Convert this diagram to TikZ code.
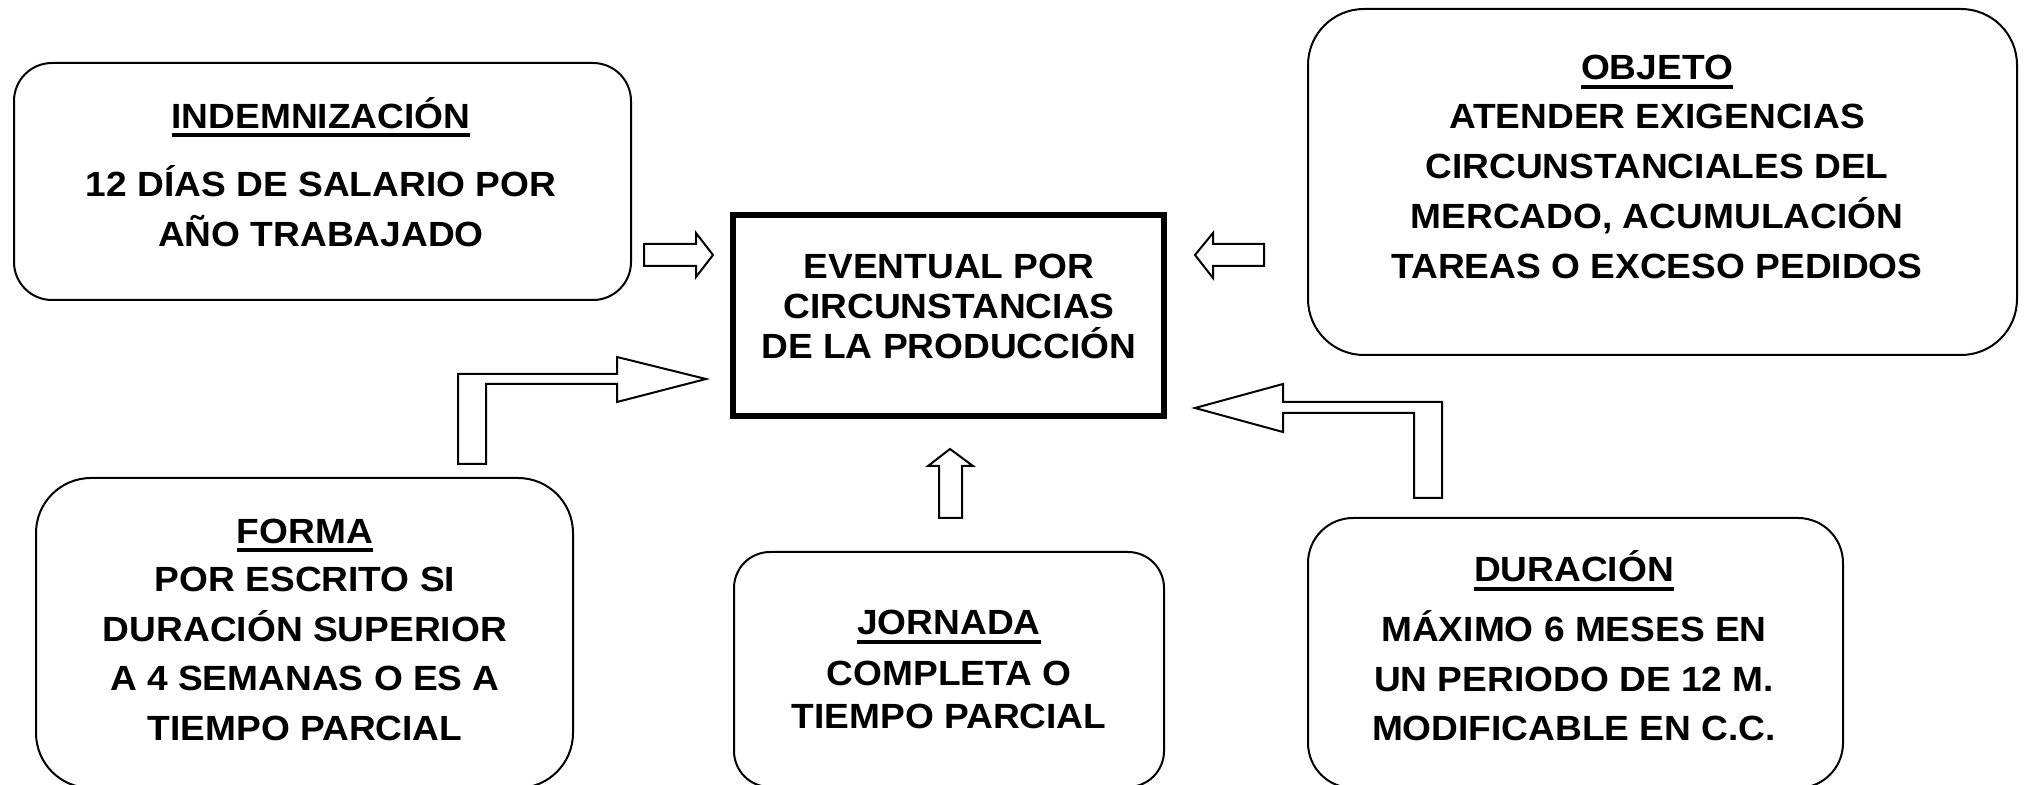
\documentclass[tikz,border=0pt]{standalone}
\usepackage{fontspec}
\setmainfont{Liberation Sans}[FakeStretch=1.06]
\newcommand\myul[1]{\setbox0\hbox{#1}\leavevmode\rlap{\rule[-4.5pt]{\wd0}{2pt}}\box0}
\begin{document}
\begin{tikzpicture}[x=0.5pt,y=-0.5pt,
  box/.style={draw,line width=1pt,inner sep=0pt},
  txt/.style={anchor=base,inner sep=0pt,font=\fontsize{17.5pt}{21pt}\selectfont\bfseries},
  barrow/.style={draw,line width=1pt,fill=white,line join=miter}]
\useasboundingbox[fill=white] (0,0) rectangle (2024,785);

% boxes
\node[box,rounded corners=19pt,minimum width=308.5pt,minimum height=118.5pt] (indem) at (322.5,181.5) {};
\node[box,rounded corners=28pt,minimum width=354.5pt,minimum height=173pt] (objeto) at (1662.5,182) {};
\node[box,rounded corners=27.5pt,minimum width=268.5pt,minimum height=155pt] (forma) at (304.5,633) {};
\node[box,rounded corners=18pt,minimum width=215pt,minimum height=117.5pt] (jornada) at (949,669.5) {};
\node[box,rounded corners=22.5pt,minimum width=267.5pt,minimum height=135pt] (duracion) at (1575.5,653) {};
\node[draw,line width=3pt,inner sep=0pt,minimum width=215.5pt,minimum height=100.5pt] (centro) at (948.5,315.3) {};

% texts
\node[txt] (i1) at (321,128.3) {\myul{INDEMNIZACIÓN}};
\node[txt] (i2) at (321,196.7) {12 DÍAS DE SALARIO POR};
\node[txt] (i3) at (321,246.7) {AÑO TRABAJADO};

\node[txt] (o1) at (1657,80) {\myul{OBJETO}};
\node[txt] (o2) at (1657,128.3) {ATENDER EXIGENCIAS};
\node[txt] (o3) at (1657,178.3) {CIRCUNSTANCIALES DEL};
\node[txt] (o4) at (1657,228.3) {MERCADO, ACUMULACIÓN};
\node[txt] (o5) at (1657,278.3) {TAREAS O EXCESO PEDIDOS};

\node[txt] (c1) at (949,278.3) {EVENTUAL POR};
\node[txt] (c2) at (949,318.3) {CIRCUNSTANCIAS};
\node[txt] (c3) at (949,358.3) {DE LA PRODUCCIÓN};

\node[txt] (f1) at (305,543.3) {\myul{FORMA}};
\node[txt] (f2) at (305,591.7) {POR ESCRITO SI};
\node[txt] (f3) at (305,641.7) {DURACIÓN SUPERIOR};
\node[txt] (f4) at (305,690) {A 4 SEMANAS O ES A};
\node[txt] (f5) at (305,740) {TIEMPO PARCIAL};

\node[txt] (j1) at (949,635) {\myul{JORNADA}};
\node[txt] (j2) at (949,685) {COMPLETA O};
\node[txt] (j3) at (949,728.3) {TIEMPO PARCIAL};

\node[txt] (d1) at (1574,581.7) {\myul{DURACIÓN}};
\node[txt] (d2) at (1574,641.7) {MÁXIMO 6 MESES EN};
\node[txt] (d3) at (1574,691.7) {UN PERIODO DE 12 M.};
\node[txt] (d4) at (1574,740) {MODIFICABLE EN C.C.};

% block arrows
\draw[barrow] (644,244) -- (696,244) -- (696,233) -- (713,255) -- (696,277) -- (696,266) -- (644,266) -- cycle;
\draw[barrow] (1264,244) -- (1213,244) -- (1213,233) -- (1195,255) -- (1213,278) -- (1213,266) -- (1264,266) -- cycle;
\draw[barrow] (458,464) -- (458,374) -- (617,374) -- (617,357) -- (706,379) -- (617,402) -- (617,384) -- (486,384) -- (486,464) -- cycle;
\draw[barrow] (1442,498) -- (1442,402) -- (1283,402) -- (1283,384) -- (1195,408) -- (1283,432) -- (1283,413) -- (1414,413) -- (1414,498) -- cycle;
\draw[barrow] (939,518) -- (939,466) -- (928,466) -- (950,449) -- (973,466) -- (962,466) -- (962,518) -- cycle;
\end{tikzpicture}
\end{document}
